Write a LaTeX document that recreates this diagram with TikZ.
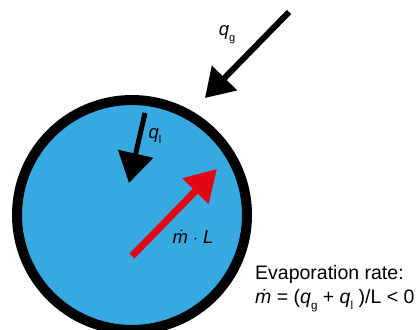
\documentclass[tikz,border=0pt]{standalone}
\usepackage{fontspec}
\setmainfont{Liberation Sans}
\usetikzlibrary{arrows.meta}
\definecolor{dropblue}{HTML}{36A9E1}
\definecolor{heatred}{HTML}{E30613}
\newcommand\subsc[1]{\raisebox{-0.32em}{\scalebox{0.6}{#1}}}
\newcommand\mdt{\textit{ṁ}}
\begin{document}
\begin{tikzpicture}[x=1pt,y=-1pt,
  lbl/.style={font=\fontsize{18.5}{20}\selectfont, inner sep=0pt},
  evap/.style={font=\fontsize{19.5}{23}\selectfont, inner sep=0pt}]
\useasboundingbox (0,0) rectangle (419,329);
\fill[white] (0,0) rectangle (419,329);
\node[circle, draw=black, line width=10pt, fill=dropblue, minimum size=230pt, inner sep=0pt] (drop) at (132,215) {};
% gas-side heat flux
\coordinate (gs) at (289,12);
\coordinate (ge) at (205,98);
\draw[line width=6pt, -{Triangle[length=28pt,width=34pt]}] (gs) -- (ge);
% liquid-side heat flux
\coordinate (ls) at (145,113);
\coordinate (le) at (129,183);
\draw[line width=5pt, -{Triangle[length=30pt,width=35pt]}] (ls) -- (le);
% evaporation arrow
\coordinate (ms) at (132,256);
\coordinate (me) at (217,169);
\draw[heatred, line width=7pt, -{Triangle[length=31pt,width=35pt]}] (ms) -- (me);
% labels
\node[lbl] (qg) at (227,35) {\textit{q}\subsc{g}};
\node[lbl] (ql) at (155,136) {\textit{q}\subsc{l}};
\node[lbl] (ml) at (193,237) {\mdt{} $\cdot$ \textit{L}};
\node[evap, anchor=base west] (ev1) at (255,279) {Evaporation rate:};
\node[evap, anchor=base west] (ev2) at (255,303) {\mdt{} = (\textit{q}\subsc{g} + \textit{q}\subsc{l} )/L < 0};
\end{tikzpicture}
\end{document}
